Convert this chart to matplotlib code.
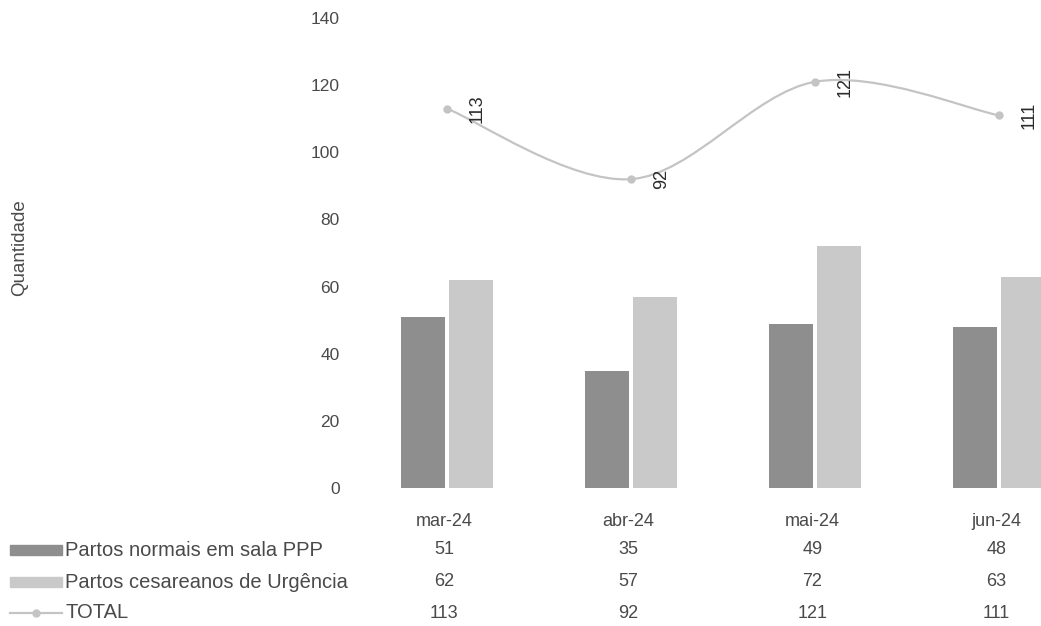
import numpy as np
import matplotlib.pyplot as plt
from matplotlib.path import Path
from matplotlib.patches import PathPatch, Rectangle
from matplotlib.lines import Line2D

plt.rcParams['font.family'] = ['Liberation Sans', 'DejaVu Sans']

months = ['mar-24', 'abr-24', 'mai-24', 'jun-24']
normais = [51, 35, 49, 48]
cesareanos = [62, 57, 72, 63]
total = [113, 92, 121, 111]
series_names = ['Partos normais em sala PPP', 'Partos cesareanos de Urgência', 'TOTAL']

dark = '#8e8e8e'
light = '#c9c9c9'
line_c = '#c4c4c4'
txt = '#4a4a4a'

W, H = 1041, 626
fig = plt.figure(figsize=(W / 100, H / 100), dpi=100)
ax = fig.add_axes([355 / W, 1 - 488 / H, (W - 355) / W, (488 - 18) / H])

x = np.arange(len(months))
bw = 0.235
ax.bar(x - 0.13, normais, bw, color=dark)
ax.bar(x + 0.13, cesareanos, bw, color=light)

# smooth line through the totals (Catmull-Rom as cubic Bezier segments)
pts = np.column_stack([x, total]).astype(float)
verts = [tuple(pts[0])]
codes = [Path.MOVETO]
for i in range(len(pts) - 1):
    p0 = pts[i - 1] if i > 0 else pts[i]
    p1, p2 = pts[i], pts[i + 1]
    p3 = pts[i + 2] if i + 2 < len(pts) else pts[i + 1]
    c1 = p1 + (p2 - p0) / 6
    c2 = p2 - (p3 - p1) / 6
    verts += [tuple(c1), tuple(c2), tuple(p2)]
    codes += [Path.CURVE4] * 3
ax.add_patch(PathPatch(Path(verts, codes), facecolor='none', edgecolor=line_c, lw=1.6))
ax.plot(x, total, linestyle='none', marker='o', ms=5, color=line_c)
for xi, v in zip(x, total):
    ax.annotate(str(v), (xi, v), xytext=(22, 0), textcoords='offset points',
                rotation=90, ha='center', va='center', fontsize=13, color='#2a2a2a')

ax.set_xlim(-0.5, (W - 355) / 184 - 0.5)
ax.set_ylim(0, 140)
ax.set_yticks(range(0, 141, 20))
ax.tick_params(axis='y', length=0, pad=11, labelsize=12.5, labelcolor=txt)
ax.set_xticks([])
for s in ax.spines.values():
    s.set_visible(False)
fig.text(20 / W, 1 - 248 / H, 'Quantidade', rotation=90, ha='center', va='center',
         fontsize=13.5, color=txt)

# data table under the chart
rows = [normais, cesareanos, total]
row_y = [550, 582, 613]
trans = ax.get_xaxis_transform()
for xi, m in zip(x, months):
    ax.text(xi - 0.015, -(522 - 488) / 470, m, transform=trans, ha='center', va='center',
            fontsize=13, color=txt)
    for r, yy in zip(rows, row_y):
        ax.text(xi - 0.015, -(yy - 488) / 470, str(r[xi]), transform=trans, ha='center',
                va='center', fontsize=13, color=txt)

for name, yy, c in zip(series_names, row_y, [dark, light, None]):
    if c is not None:
        fig.patches.append(Rectangle((10 / W, 1 - (yy + 5) / H), 52 / W, 10 / H,
                                     transform=fig.transFigure, color=c))
    else:
        fig.lines.append(Line2D([10 / W, 62 / W], [1 - yy / H] * 2, transform=fig.transFigure,
                                color=line_c, lw=1.6))
        fig.lines.append(Line2D([36 / W], [1 - yy / H], transform=fig.transFigure,
                                color=line_c, marker='o', ms=5))
    fig.text(65 / W, 1 - yy / H, name, ha='left', va='center', fontsize=14.5, color=txt)

fig.savefig('out.png', dpi=100)
